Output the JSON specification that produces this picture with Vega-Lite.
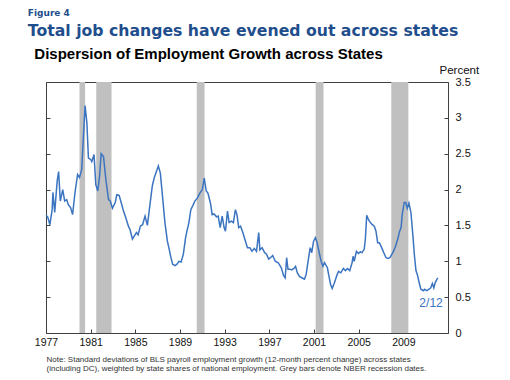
{
  "$schema": "https://vega.github.io/schema/vega-lite/v6.json",
  "padding": {"left": 27, "top": 8, "right": 5, "bottom": 5},
  "config": {"view": {"stroke": "#404040", "strokeWidth": 1}, "font": "Liberation Sans"},
  "title": {
    "text": "Figure 4",
    "subtitle": "Total job changes have evened out across states",
    "anchor": "start",
    "dx": -6,
    "font": "DejaVu Sans",
    "fontSize": 9,
    "fontWeight": "bold",
    "color": "#1f4e8d",
    "subtitleFont": "DejaVu Sans",
    "subtitleFontSize": 15.7,
    "subtitleFontWeight": "bold",
    "subtitleColor": "#1f4e8d",
    "subtitlePadding": 6,
    "offset": 8
  },
  "datasets": {
    "recessions": [
      {"start": 1980.0, "end": 1980.5},
      {"start": 1981.5, "end": 1982.87},
      {"start": 1990.5, "end": 1991.2},
      {"start": 2001.15, "end": 2001.85},
      {"start": 2007.92, "end": 2009.45}
    ],
    "series": [
      {"t": 1977.0, "v": 1.64}, {"t": 1977.15, "v": 1.62}, {"t": 1977.35, "v": 1.51}, {"t": 1977.55, "v": 1.72},
      {"t": 1977.62, "v": 1.96}, {"t": 1977.78, "v": 1.68}, {"t": 1978.0, "v": 2.12}, {"t": 1978.13, "v": 2.25},
      {"t": 1978.28, "v": 1.84}, {"t": 1978.5, "v": 2.0}, {"t": 1978.67, "v": 1.84}, {"t": 1978.85, "v": 1.86},
      {"t": 1979.0, "v": 1.79}, {"t": 1979.2, "v": 1.75}, {"t": 1979.38, "v": 1.65}, {"t": 1979.6, "v": 1.96},
      {"t": 1979.83, "v": 2.21}, {"t": 1980.0, "v": 2.17}, {"t": 1980.2, "v": 2.28}, {"t": 1980.35, "v": 2.74},
      {"t": 1980.5, "v": 3.17}, {"t": 1980.66, "v": 2.93}, {"t": 1980.8, "v": 2.44}, {"t": 1981.0, "v": 2.42},
      {"t": 1981.1, "v": 2.39}, {"t": 1981.3, "v": 2.49}, {"t": 1981.46, "v": 2.07}, {"t": 1981.64, "v": 1.98},
      {"t": 1981.8, "v": 2.19}, {"t": 1981.94, "v": 2.5}, {"t": 1982.15, "v": 2.46}, {"t": 1982.36, "v": 2.14},
      {"t": 1982.6, "v": 1.86}, {"t": 1982.75, "v": 1.84}, {"t": 1982.95, "v": 1.74}, {"t": 1983.2, "v": 1.82},
      {"t": 1983.34, "v": 1.93}, {"t": 1983.55, "v": 1.92}, {"t": 1983.73, "v": 1.82}, {"t": 1983.94, "v": 1.7},
      {"t": 1984.14, "v": 1.61}, {"t": 1984.38, "v": 1.49}, {"t": 1984.53, "v": 1.44}, {"t": 1984.74, "v": 1.31},
      {"t": 1984.9, "v": 1.35}, {"t": 1985.1, "v": 1.4}, {"t": 1985.25, "v": 1.37}, {"t": 1985.45, "v": 1.49},
      {"t": 1985.65, "v": 1.51}, {"t": 1985.87, "v": 1.63}, {"t": 1986.08, "v": 1.5}, {"t": 1986.31, "v": 1.79},
      {"t": 1986.52, "v": 2.05}, {"t": 1986.7, "v": 2.17}, {"t": 1986.88, "v": 2.25}, {"t": 1987.06, "v": 2.33},
      {"t": 1987.24, "v": 2.23}, {"t": 1987.42, "v": 1.93}, {"t": 1987.65, "v": 1.54}, {"t": 1987.87, "v": 1.28},
      {"t": 1988.0, "v": 1.19}, {"t": 1988.19, "v": 1.05}, {"t": 1988.34, "v": 0.96}, {"t": 1988.55, "v": 0.94},
      {"t": 1988.73, "v": 0.96}, {"t": 1988.9, "v": 1.0}, {"t": 1989.1, "v": 0.99}, {"t": 1989.3, "v": 1.1},
      {"t": 1989.5, "v": 1.33}, {"t": 1989.62, "v": 1.42}, {"t": 1989.8, "v": 1.54}, {"t": 1989.97, "v": 1.72},
      {"t": 1990.16, "v": 1.78}, {"t": 1990.33, "v": 1.84}, {"t": 1990.55, "v": 1.88}, {"t": 1990.78, "v": 1.95},
      {"t": 1991.0, "v": 2.0}, {"t": 1991.17, "v": 2.16}, {"t": 1991.35, "v": 1.98}, {"t": 1991.5, "v": 1.95},
      {"t": 1991.73, "v": 1.81}, {"t": 1991.88, "v": 1.65}, {"t": 1992.05, "v": 1.66}, {"t": 1992.27, "v": 1.62},
      {"t": 1992.42, "v": 1.63}, {"t": 1992.6, "v": 1.47}, {"t": 1992.78, "v": 1.63}, {"t": 1992.95, "v": 1.47},
      {"t": 1993.07, "v": 1.42}, {"t": 1993.25, "v": 1.7}, {"t": 1993.4, "v": 1.54}, {"t": 1993.6, "v": 1.56},
      {"t": 1993.78, "v": 1.54}, {"t": 1993.96, "v": 1.72}, {"t": 1994.1, "v": 1.65}, {"t": 1994.26, "v": 1.47},
      {"t": 1994.42, "v": 1.49}, {"t": 1994.59, "v": 1.42}, {"t": 1994.8, "v": 1.31}, {"t": 1995.04, "v": 1.19},
      {"t": 1995.25, "v": 1.19}, {"t": 1995.45, "v": 1.14}, {"t": 1995.65, "v": 1.18}, {"t": 1995.85, "v": 1.14},
      {"t": 1996.05, "v": 1.4}, {"t": 1996.15, "v": 1.16}, {"t": 1996.35, "v": 1.19}, {"t": 1996.58, "v": 1.12},
      {"t": 1996.75, "v": 1.1}, {"t": 1996.94, "v": 1.03}, {"t": 1997.1, "v": 1.05}, {"t": 1997.3, "v": 1.08},
      {"t": 1997.53, "v": 1.0}, {"t": 1997.8, "v": 0.98}, {"t": 1998.07, "v": 0.91}, {"t": 1998.28, "v": 0.8},
      {"t": 1998.42, "v": 0.77}, {"t": 1998.55, "v": 1.05}, {"t": 1998.67, "v": 0.89}, {"t": 1998.85, "v": 0.89},
      {"t": 1999.0, "v": 0.88}, {"t": 1999.2, "v": 0.9}, {"t": 1999.35, "v": 0.93}, {"t": 1999.5, "v": 0.84},
      {"t": 1999.7, "v": 0.79}, {"t": 1999.9, "v": 0.77}, {"t": 2000.15, "v": 0.75}, {"t": 2000.3, "v": 0.82},
      {"t": 2000.5, "v": 1.03}, {"t": 2000.66, "v": 1.19}, {"t": 2000.8, "v": 1.12}, {"t": 2000.96, "v": 1.28},
      {"t": 2001.13, "v": 1.33}, {"t": 2001.28, "v": 1.26}, {"t": 2001.44, "v": 1.14}, {"t": 2001.64, "v": 1.0},
      {"t": 2001.8, "v": 0.93}, {"t": 2001.94, "v": 0.98}, {"t": 2002.2, "v": 0.91}, {"t": 2002.33, "v": 0.8},
      {"t": 2002.48, "v": 0.68}, {"t": 2002.63, "v": 0.62}, {"t": 2002.83, "v": 0.7}, {"t": 2003.04, "v": 0.8},
      {"t": 2003.2, "v": 0.86}, {"t": 2003.4, "v": 0.84}, {"t": 2003.63, "v": 0.9}, {"t": 2003.82, "v": 0.87},
      {"t": 2004.0, "v": 0.9}, {"t": 2004.2, "v": 0.87}, {"t": 2004.41, "v": 0.98}, {"t": 2004.5, "v": 1.07},
      {"t": 2004.6, "v": 1.0}, {"t": 2004.8, "v": 1.14}, {"t": 2004.98, "v": 1.11}, {"t": 2005.15, "v": 1.13},
      {"t": 2005.3, "v": 1.12}, {"t": 2005.5, "v": 1.17}, {"t": 2005.6, "v": 1.31}, {"t": 2005.72, "v": 1.64},
      {"t": 2005.88, "v": 1.58}, {"t": 2006.05, "v": 1.54}, {"t": 2006.22, "v": 1.51}, {"t": 2006.4, "v": 1.49},
      {"t": 2006.55, "v": 1.42}, {"t": 2006.7, "v": 1.26}, {"t": 2006.85, "v": 1.26}, {"t": 2007.06, "v": 1.19},
      {"t": 2007.25, "v": 1.12}, {"t": 2007.45, "v": 1.05}, {"t": 2007.65, "v": 1.04}, {"t": 2007.8, "v": 1.05},
      {"t": 2008.13, "v": 1.14}, {"t": 2008.3, "v": 1.21}, {"t": 2008.5, "v": 1.31}, {"t": 2008.67, "v": 1.42},
      {"t": 2008.8, "v": 1.47}, {"t": 2008.9, "v": 1.65}, {"t": 2009.08, "v": 1.82}, {"t": 2009.22, "v": 1.82},
      {"t": 2009.35, "v": 1.74}, {"t": 2009.5, "v": 1.81}, {"t": 2009.68, "v": 1.68}, {"t": 2009.86, "v": 1.35},
      {"t": 2010.0, "v": 1.07}, {"t": 2010.13, "v": 0.87}, {"t": 2010.28, "v": 0.8}, {"t": 2010.42, "v": 0.7},
      {"t": 2010.57, "v": 0.61}, {"t": 2010.8, "v": 0.59}, {"t": 2010.9, "v": 0.61}, {"t": 2011.1, "v": 0.59},
      {"t": 2011.3, "v": 0.61}, {"t": 2011.46, "v": 0.63}, {"t": 2011.6, "v": 0.69}, {"t": 2011.73, "v": 0.63},
      {"t": 2011.85, "v": 0.7}, {"t": 2012.08, "v": 0.77, "label": "2/12"}
    ]
  },
  "vconcat": [
    {
      "width": 402,
      "height": 251,
      "title": {
        "text": "Dispersion of Employment Growth across States",
        "anchor": "start",
        "font": "Liberation Sans",
        "fontSize": 15,
        "fontWeight": "bold",
        "color": "#000000",
        "offset": 2
      },
      "layer": [
        {
          "data": {"name": "recessions"},
          "mark": {"type": "rect", "color": "#c0c0c0"},
          "encoding": {
            "x": {
              "field": "start",
              "type": "quantitative",
              "scale": {"domain": [1977, 2013], "nice": false, "zero": false},
              "axis": {
                "values": [1977, 1981, 1985, 1989, 1993, 1997, 2001, 2005, 2009],
                "format": "d",
                "grid": false,
                "domain": false,
                "tickSize": -4,
                "tickColor": "#404040",
                "labelFlush": false,
                "labelFontSize": 10.5,
                "labelColor": "#111111",
                "labelPadding": 8,
                "title": [
                  "Note: Standard deviations of BLS payroll employment growth (12-month percent change) across states",
                  "(including DC), weighted by state shares of national employment. Grey bars denote NBER recession dates."
                ],
                "titleFont": "Liberation Sans",
                "titleFontSize": 8,
                "titleFontWeight": "normal",
                "titleColor": "#333333",
                "titleAnchor": "start",
                "titleAlign": "left",
                "titleBaseline": "top",
                "titleX": 0,
                "titleY": 22,
                "titleLineHeight": 9
              }
            },
            "x2": {"field": "end"}
          }
        },
        {
          "data": {"name": "series"},
          "mark": {"type": "line", "color": "#3b74c0", "strokeWidth": 1.5},
          "encoding": {
            "x": {"field": "t", "type": "quantitative"},
            "y": {
              "field": "v",
              "type": "quantitative",
              "scale": {"domain": [0, 3.5], "nice": false},
              "axis": {
                "orient": "right",
                "values": [0, 0.5, 1, 1.5, 2, 2.5, 3, 3.5],
                "format": "~g",
                "grid": false,
                "domain": false,
                "tickSize": -4,
                "tickColor": "#404040",
                "labelFlush": false,
                "labelAlign": "left",
                "labelFontSize": 11,
                "labelColor": "#111111",
                "labelPadding": 11,
                "title": "Percent",
                "titleAngle": 0,
                "titleAlign": "left",
                "titleBaseline": "alphabetic",
                "titleX": -9,
                "titleY": -9,
                "titleFontSize": 11.5,
                "titleFontWeight": "normal",
                "titleColor": "#111111"
              }
            }
          }
        },
        {
          "data": {"name": "series"},
          "transform": [{"filter": "datum.label != null"}],
          "mark": {"type": "text", "align": "right", "baseline": "alphabetic", "dx": 5, "dy": 29, "fontSize": 12, "color": "#3b74c0", "font": "Liberation Sans"},
          "encoding": {
            "x": {"field": "t", "type": "quantitative"},
            "y": {
              "field": "v",
              "type": "quantitative",
              "axis": {
                "orient": "left",
                "values": [0, 0.5, 1, 1.5, 2, 2.5, 3, 3.5],
                "grid": false,
                "domain": false,
                "labels": false,
                "tickSize": -4,
                "tickColor": "#404040",
                "title": null
              }
            },
            "text": {"field": "label"}
          }
        }
      ],
      "resolve": {"axis": {"y": "independent"}}
    }
  ]
}
